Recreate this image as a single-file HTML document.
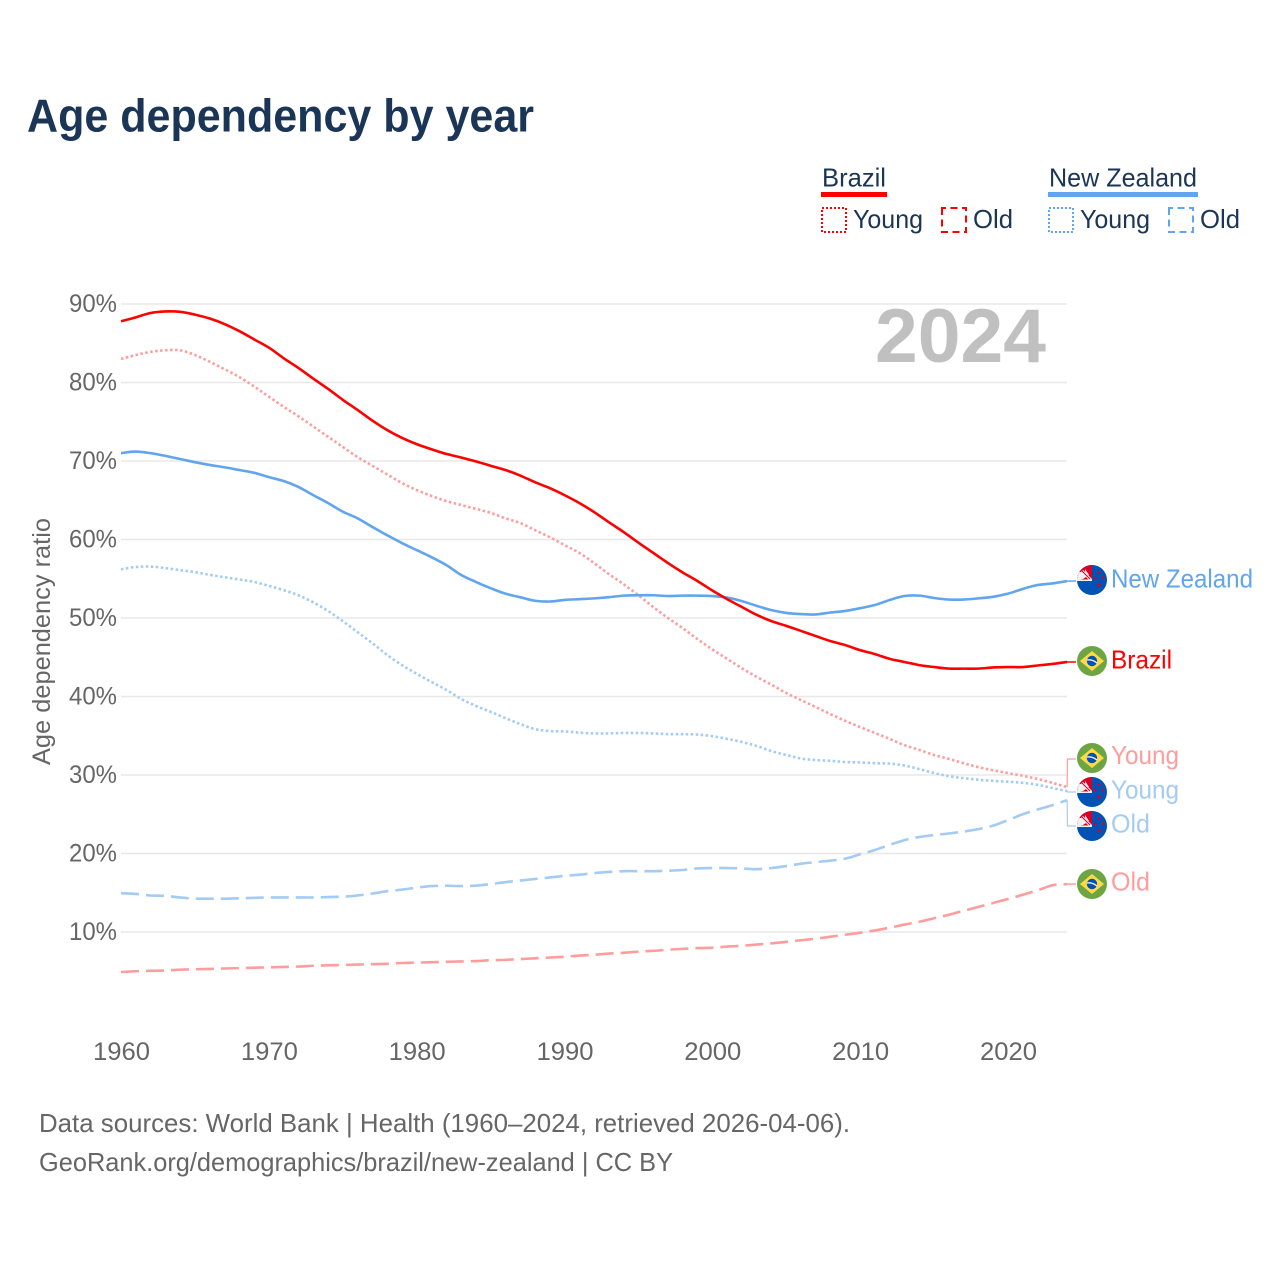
<!DOCTYPE html>
<html lang="en">
<head>
<meta charset="utf-8">
<title>Age dependency by year</title>
<style>
html,body{margin:0;padding:0;background:#fff;}
svg{display:block;}
text{font-family:"Liberation Sans",sans-serif;}
</style>
</head>
<body>
<svg id="chart" xmlns="http://www.w3.org/2000/svg" width="1280" height="1280" viewBox="0 0 1280 1280">
<defs>
<clipPath id="flag-clip"><circle cx="0" cy="0" r="15"/></clipPath>
<g id="flag-br" clip-path="url(#flag-clip)">
<rect x="-15" y="-15" width="30" height="30" fill="#6da544"/>
<polygon points="0,-10 12,0 0,10 -12,0" fill="#ffda44"/>
<circle r="5.2" fill="#0052b4"/>
<path d="M-5,-1 Q0,-2 5,2" stroke="#f0f0f0" stroke-width="1.4" fill="none"/>
</g>
<g id="flag-nz" clip-path="url(#flag-clip)">
<rect x="-15" y="-15" width="30" height="30" fill="#0052b4"/>
<rect x="-15" y="-15" width="15" height="15.5" fill="#d80027"/>
<polygon points="-12,-8 -7,-8 -7,-11 -3,-5 -6,-3 -9,-1 -15,0 -15,-8" fill="#f0f0f0"/>
<path d="M-10,-9 L-1,0" stroke="#f0f0f0" stroke-width="3"/>
<path d="M-10,-9 L-2,-1" stroke="#d80027" stroke-width="1"/>
<rect x="-15" y="-0.5" width="15" height="1.5" fill="#f0f0f0"/>
<circle cx="7" cy="-7.5" r="1.3" fill="#d80027"/>
<circle cx="3" cy="-2" r="1.3" fill="#d80027"/>
<circle cx="11" cy="-2.5" r="1.3" fill="#d80027"/>
<circle cx="7" cy="5" r="1.6" fill="#d80027"/>
</g>
</defs>

<text x="27" y="131.5" font-size="46" font-weight="700" fill="#1a3556" textLength="507" lengthAdjust="spacingAndGlyphs">Age dependency by year</text>

<g fill="#1a3556" font-size="26">
<text x="822" y="186.5" textLength="64" lengthAdjust="spacingAndGlyphs">Brazil</text>
<rect x="821" y="192" width="66" height="5" fill="#ff0000"/>
<text x="1049" y="186.5" textLength="148" lengthAdjust="spacingAndGlyphs">New Zealand</text>
<rect x="1048" y="192" width="150" height="5" fill="#60a5ee"/>
<rect x="822" y="208" width="24" height="24" fill="none" stroke="#ff0000" stroke-width="2" stroke-dasharray="2 2"/>
<text x="853" y="228" textLength="70" lengthAdjust="spacingAndGlyphs">Young</text>
<rect x="942" y="208" width="24" height="24" fill="none" stroke="#ff0000" stroke-width="2" stroke-dasharray="7 4.5" stroke-dashoffset="3"/>
<text x="973" y="228" textLength="40" lengthAdjust="spacingAndGlyphs">Old</text>
<rect x="1049" y="208" width="24" height="24" fill="none" stroke="#60a5ee" stroke-width="2" stroke-dasharray="2 2"/>
<text x="1080" y="228" textLength="70" lengthAdjust="spacingAndGlyphs">Young</text>
<rect x="1169" y="208" width="24" height="24" fill="none" stroke="#60a5ee" stroke-width="2" stroke-dasharray="7 4.5" stroke-dashoffset="3"/>
<text x="1200" y="228" textLength="40" lengthAdjust="spacingAndGlyphs">Old</text>
</g>

<g id="grid"></g>
<g id="y-ticks"></g>
<g id="x-ticks"></g>

<text x="875" y="362" font-size="76" font-weight="700" fill="#c0c0c0" textLength="171" lengthAdjust="spacingAndGlyphs">2024</text>

<text transform="translate(50,765) rotate(-90)" font-size="25" fill="#666666" textLength="247" lengthAdjust="spacingAndGlyphs">Age dependency ratio</text>

<g id="series"></g>
<g id="connectors"></g>

<g font-size="26">
<use href="#flag-nz" x="1092" y="580"/>
<text x="1111" y="587.5" fill="#60a5ee" textLength="142" lengthAdjust="spacingAndGlyphs">New Zealand</text>
<use href="#flag-br" x="1092" y="661"/>
<text x="1111" y="668.5" fill="#ff0000" textLength="61" lengthAdjust="spacingAndGlyphs">Brazil</text>
<use href="#flag-br" x="1092" y="758"/>
<text x="1111" y="764" fill="#ff9d9d" textLength="68" lengthAdjust="spacingAndGlyphs">Young</text>
<use href="#flag-nz" x="1092" y="792"/>
<text x="1111" y="798.5" fill="#a3cbf4" textLength="68" lengthAdjust="spacingAndGlyphs">Young</text>
<use href="#flag-nz" x="1092" y="826"/>
<text x="1111" y="832.5" fill="#a3cbf4" textLength="39" lengthAdjust="spacingAndGlyphs">Old</text>
<use href="#flag-br" x="1092" y="884"/>
<text x="1111" y="890.5" fill="#ff9d9d" textLength="39" lengthAdjust="spacingAndGlyphs">Old</text>
</g>

<text x="39" y="1132" font-size="26" fill="#666666" textLength="811" lengthAdjust="spacingAndGlyphs">Data sources: World Bank | Health (1960–2024, retrieved 2026-04-06).</text>
<text x="39" y="1171" font-size="26" fill="#666666" textLength="634" lengthAdjust="spacingAndGlyphs">GeoRank.org/demographics/brazil/new-zealand | CC BY</text>
</svg>

<script>
const startYear = 1960;
const yTickValues = [10, 20, 30, 40, 50, 60, 70, 80, 90];
const xTickValues = [1960, 1970, 1980, 1990, 2000, 2010, 2020];

const brazilTotal = [
87.8,88.3,88.85,89.05,89.0,88.65,88.15,87.45,86.55,85.5,
84.45,83.1,81.85,80.5,79.2,77.8,76.5,75.15,73.95,72.95,
72.15,71.5,70.9,70.45,69.95,69.4,68.85,68.15,67.3,66.55,
65.65,64.65,63.5,62.2,60.95,59.6,58.3,57.0,55.8,54.7,
53.5,52.4,51.4,50.4,49.6,49.0,48.35,47.7,47.05,46.55,
45.9,45.4,44.8,44.4,44.0,43.75,43.55,43.55,43.55,43.7,
43.75,43.75,43.95,44.15,44.4];

const brazilYoung = [
83.0,83.5,83.9,84.1,84.1,83.5,82.65,81.7,80.7,79.5,
78.2,76.9,75.7,74.4,73.1,71.8,70.5,69.4,68.3,67.2,
66.3,65.55,64.9,64.4,63.9,63.4,62.7,62.1,61.2,60.3,
59.3,58.3,57.0,55.6,54.3,52.9,51.4,50.0,48.7,47.3,
46.0,44.8,43.6,42.5,41.5,40.45,39.55,38.65,37.75,36.9,
36.1,35.35,34.6,33.8,33.2,32.55,32.05,31.5,31.0,30.6,
30.25,29.9,29.5,29.0,28.45];

const brazilOld = [
4.9,5.0,5.05,5.1,5.2,5.25,5.3,5.35,5.4,5.45,
5.5,5.55,5.6,5.7,5.75,5.8,5.85,5.9,5.95,6.05,
6.1,6.15,6.2,6.25,6.3,6.4,6.45,6.55,6.65,6.75,
6.85,7.0,7.1,7.25,7.35,7.5,7.6,7.75,7.85,7.95,
8.0,8.15,8.25,8.4,8.55,8.75,8.95,9.15,9.4,9.65,
9.9,10.2,10.55,10.95,11.3,11.75,12.2,12.7,13.2,13.7,
14.2,14.75,15.3,15.95,16.1];

const newZealandTotal = [
71.0,71.2,71.0,70.65,70.25,69.85,69.5,69.2,68.85,68.5,
67.95,67.45,66.7,65.65,64.65,63.55,62.7,61.6,60.55,59.55,
58.65,57.75,56.75,55.5,54.6,53.8,53.1,52.65,52.2,52.1,
52.3,52.4,52.5,52.65,52.85,52.9,52.9,52.8,52.85,52.85,
52.8,52.6,52.15,51.55,51.0,50.65,50.5,50.45,50.7,50.9,
51.25,51.65,52.3,52.8,52.85,52.55,52.35,52.35,52.5,52.7,
53.1,53.7,54.2,54.4,54.7];

const newZealandYoung = [
56.2,56.5,56.55,56.35,56.1,55.85,55.5,55.2,54.9,54.6,
54.1,53.55,52.9,52.0,50.9,49.6,48.2,46.8,45.3,44.0,
42.9,41.85,40.85,39.7,38.8,38.05,37.25,36.5,35.85,35.6,
35.55,35.4,35.3,35.3,35.35,35.35,35.3,35.2,35.2,35.15,
34.95,34.6,34.2,33.7,33.05,32.55,32.1,31.9,31.8,31.65,
31.6,31.5,31.45,31.2,30.75,30.25,29.85,29.6,29.4,29.25,
29.15,29.0,28.75,28.35,27.95];

const newZealandOld = [
14.95,14.85,14.65,14.6,14.4,14.25,14.25,14.25,14.3,14.35,
14.4,14.4,14.4,14.4,14.45,14.5,14.65,14.9,15.2,15.4,
15.65,15.85,15.9,15.85,15.9,16.1,16.35,16.55,16.75,16.95,
17.15,17.3,17.5,17.65,17.75,17.75,17.75,17.8,17.9,18.1,
18.15,18.15,18.1,18.0,18.15,18.4,18.7,18.9,19.1,19.35,
19.9,20.45,21.1,21.7,22.1,22.35,22.55,22.8,23.1,23.55,
24.25,25.0,25.6,26.15,26.8];

const svgNS = 'http://www.w3.org/2000/svg';

function xScale(year) {
  return 121 + (year - 1960) * 14.783;
}
function yScale(value) {
  return 1010.5 - value * 7.85;
}
function make(tag, parent, attrs) {
  const el = document.createElementNS(svgNS, tag);
  Object.keys(attrs).forEach(function (k) { el.setAttribute(k, attrs[k]); });
  parent.appendChild(el);
  return el;
}
function linePath(values) {
  const pts = values.map(function (v, i) {
    return [xScale(startYear + i), yScale(v)];
  });
  let d = 'M' + pts[0][0].toFixed(2) + ',' + pts[0][1].toFixed(2);
  for (let i = 0; i < pts.length - 1; i++) {
    const p0 = pts[Math.max(i - 1, 0)];
    const p1 = pts[i];
    const p2 = pts[i + 1];
    const p3 = pts[Math.min(i + 2, pts.length - 1)];
    const c1x = p1[0] + (p2[0] - p0[0]) / 6;
    const c1y = p1[1] + (p2[1] - p0[1]) / 6;
    const c2x = p2[0] - (p3[0] - p1[0]) / 6;
    const c2y = p2[1] - (p3[1] - p1[1]) / 6;
    d += ' C' + c1x.toFixed(2) + ',' + c1y.toFixed(2) + ' ' + c2x.toFixed(2) + ',' + c2y.toFixed(2) + ' ' + p2[0].toFixed(2) + ',' + p2[1].toFixed(2);
  }
  return d;
}

const gridGroup = document.getElementById('grid');
const yTickGroup = document.getElementById('y-ticks');
const xTickGroup = document.getElementById('x-ticks');
const seriesGroup = document.getElementById('series');
const connectorGroup = document.getElementById('connectors');

yTickValues.forEach(function (v) {
  const line = make('line', gridGroup, {x1: 121, x2: 1067, y1: yScale(v), y2: yScale(v), stroke: '#e8e8e8', 'stroke-width': 1.5});
  
  
  const label = make('text', yTickGroup, {x: 117, y: yScale(v) + 8, 'text-anchor': 'end', 'font-size': 25, fill: '#666666', textLength: 48, lengthAdjust: 'spacingAndGlyphs'});
  
  
  label.textContent = v + '%';
});

xTickValues.forEach(function (year) {
  const label = make('text', xTickGroup, {x: xScale(year) - 28, y: 1060, 'font-size': 25, fill: '#666666', textLength: 57, lengthAdjust: 'spacingAndGlyphs'});
  
  
  label.textContent = year;
});

function drawSeries(values, name, color, dash, bendY, flagY) {
  const path = make('path', seriesGroup, {d: linePath(values), fill: 'none', stroke: color, 'stroke-width': 2.6, 'stroke-linejoin': 'round'});
  if (dash) path.setAttribute('stroke-dasharray', dash);
  
  
  const endX = xScale(startYear + values.length - 1);
  const endY = yScale(values[values.length - 1]);
  const points = bendY === null
    ? endX + ',' + endY + ' 1076,' + flagY
    : endX + ',' + endY + ' 1067.5,' + bendY + ' 1076,' + flagY;
  const connector = make('polyline', connectorGroup, {points: points, fill: 'none', stroke: color, 'stroke-width': bendY === null ? 1.5 : 1.2});
  
  
}

drawSeries(brazilOld, 'brazil-old-line', '#ff9d9d', '18 7', null, 884);
drawSeries(newZealandOld, 'new-zealand-old-line', '#a3cbf4', '18 7', 826, 826);
drawSeries(brazilYoung, 'brazil-young-line', '#ff9d9d', '2.5 2.5', 759, 759);
drawSeries(newZealandYoung, 'new-zealand-young-line', '#a3cbf4', '2.5 2.5', 792, 792);
drawSeries(newZealandTotal, 'new-zealand-total-line', '#60a5ee', null, null, 581);
drawSeries(brazilTotal, 'brazil-total-line', '#ff0000', null, null, 662);
</script>
</body>
</html>
